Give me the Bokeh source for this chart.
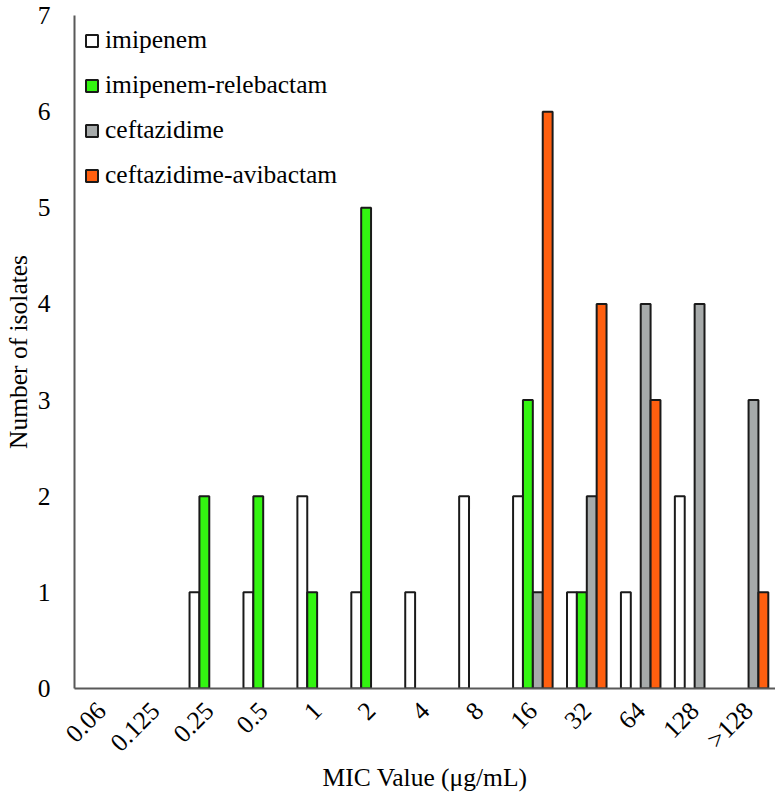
from bokeh.plotting import figure
from bokeh.models import ColumnDataSource, FixedTicker, Legend, LegendItem
from bokeh.transform import dodge
from bokeh.embed import file_html
from bokeh.resources import INLINE
import math

categories = ["0.06", "0.125", "0.25", "0.5", "1", "2", "4", "8", "16", "32", "64", "128", ">128"]
imipenem = [0, 0, 1, 1, 2, 1, 1, 2, 2, 1, 1, 2, 0]
imipenem_relebactam = [0, 0, 2, 2, 1, 5, 0, 0, 3, 1, 0, 0, 0]
ceftazidime = [0, 0, 0, 0, 0, 0, 0, 0, 1, 2, 4, 4, 3]
ceftazidime_avibactam = [0, 0, 0, 0, 0, 0, 0, 0, 6, 4, 3, 0, 1]
series_names = ["imipenem", "imipenem-relebactam", "ceftazidime", "ceftazidime-avibactam"]
series_values = [imipenem, imipenem_relebactam, ceftazidime, ceftazidime_avibactam]
colors = ["#FFFFFF", "#33F511", "#A6AAAA", "#FF5F0F"]
y_ticks = [0, 1, 2, 3, 4, 5, 6, 7]
x_title = "MIC Value (μg/mL)"
y_title = "Number of isolates"

FONT = "Liberation Serif"
FS = "25.5px"

p = figure(x_range=categories, y_range=(0, 7), width=775, height=794,
           output_backend="svg", toolbar_location=None,
           min_border_left=65, min_border_right=0, min_border_top=15, min_border_bottom=94)
p.outline_line_color = None
p.xgrid.grid_line_color = None
p.ygrid.grid_line_color = None

bar_w = 0.183
offsets = [-0.275, -0.092, 0.092, 0.275]
renderers = []
for name, vals, col, off in zip(series_names, series_values, colors, offsets):
    xs = [c for c, v in zip(categories, vals) if v > 0]
    ys = [v for v in vals if v > 0]
    src = ColumnDataSource(dict(x=xs, y=ys))
    r = p.vbar(x=dodge("x", off, range=p.x_range), top="y", width=bar_w, source=src,
               fill_color=col, line_color="#1a1a1a", line_width=2)
    renderers.append((name, r))

legend = Legend(items=[LegendItem(label=n, renderers=[r]) for n, r in renderers],
                location="top_left", background_fill_alpha=0, border_line_color=None,
                label_text_font=FONT, label_text_font_size=FS, label_text_color="#000000",
                glyph_width=15, glyph_height=15, label_height=29, spacing=15,
                label_standoff=6, padding=0, margin=10)
p.add_layout(legend)

p.yaxis.ticker = FixedTicker(ticks=y_ticks)
p.yaxis.axis_label = y_title
p.xaxis.axis_label = x_title
for ax in (p.xaxis[0], p.yaxis[0]):
    ax.axis_line_color = "#595959"
    ax.axis_line_width = 2
    ax.major_tick_line_color = None
    ax.minor_tick_line_color = None
    ax.major_label_text_font = FONT
    ax.major_label_text_font_size = FS
    ax.major_label_text_color = "#000000"
    ax.axis_label_text_font = FONT
    ax.axis_label_text_font_size = FS
    ax.axis_label_text_font_style = "normal"
    ax.axis_label_text_color = "#000000"
p.yaxis.major_label_standoff = 18
p.yaxis.axis_label_standoff = 2
p.xaxis.major_label_orientation = math.pi / 4
p.xaxis.major_label_standoff = 12
p.xaxis.axis_label_standoff = -8

open("out.html", "w").write(file_html(p, INLINE))
